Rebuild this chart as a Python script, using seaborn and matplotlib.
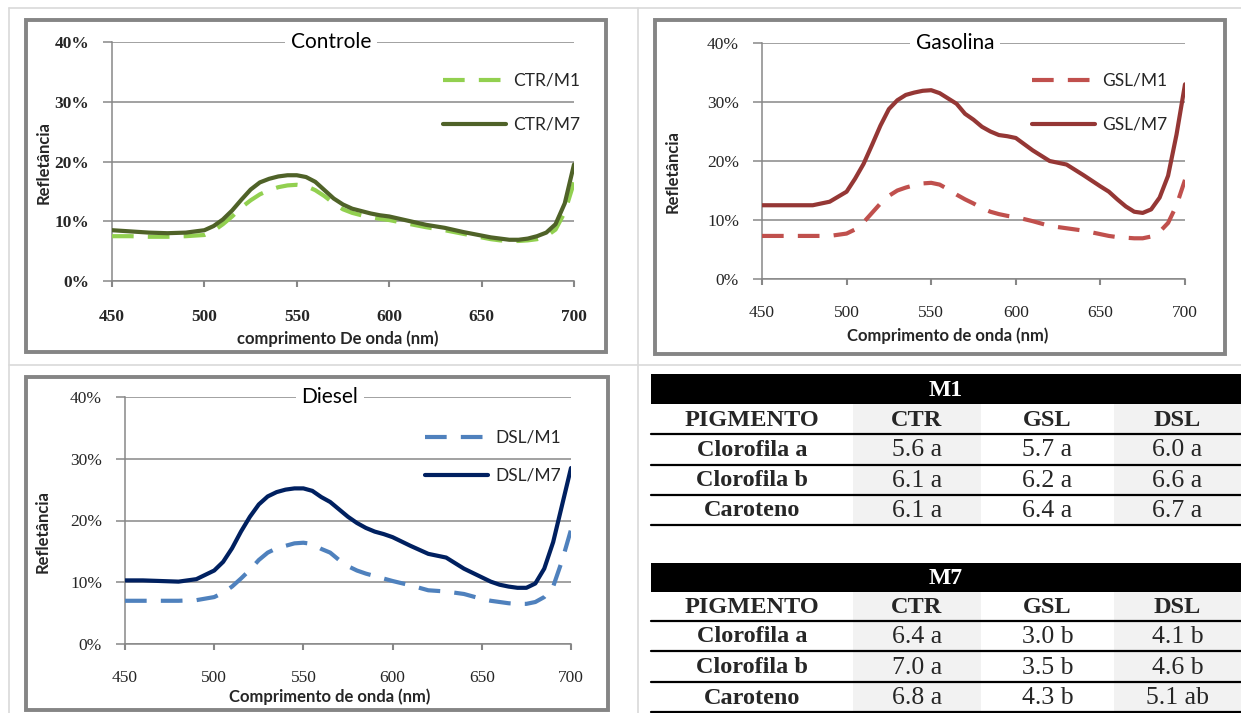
import matplotlib
matplotlib.use("Agg")
import matplotlib.pyplot as plt
import seaborn as sns
import numpy as np
import pandas as pd
from matplotlib.lines import Line2D
from matplotlib.patches import Rectangle
from matplotlib.ticker import PercentFormatter

# ---------------- data ----------------
wavelength = [450, 460, 470, 480, 490, 500, 505, 510, 515, 520, 525, 530, 535, 540,
              545, 550, 555, 560, 565, 570, 575, 580, 585, 590, 595, 600, 610, 620,
              630, 640, 650, 655, 660, 665, 670, 675, 680, 685, 690, 695, 700]

ctr_m1 = [7.5, 7.5, 7.4, 7.4, 7.5, 7.7, 8.4, 9.5, 10.8, 12.3, 13.5, 14.5, 15.2, 15.7,
          16.0, 16.1, 15.9, 15.2, 14.2, 13.0, 12.0, 11.4, 11.0, 10.7, 10.4, 10.2, 9.6, 9.0,
          8.5, 7.9, 7.3, 7.0, 6.8, 6.7, 6.7, 6.8, 7.0, 7.5, 8.6, 11.5, 16.5]
ctr_m7 = [8.5, 8.3, 8.1, 8.0, 8.1, 8.5, 9.2, 10.3, 11.8, 13.6, 15.3, 16.5, 17.1, 17.5,
          17.7, 17.7, 17.4, 16.6, 15.2, 13.8, 12.8, 12.1, 11.7, 11.3, 11.0, 10.8, 10.1, 9.4,
          8.9, 8.2, 7.6, 7.3, 7.1, 6.9, 6.9, 7.1, 7.5, 8.1, 9.5, 13.0, 19.5]

gsl_m1 = [7.3, 7.3, 7.3, 7.3, 7.3, 7.7, 8.4, 9.6, 11.2, 12.8, 14.1, 15.0, 15.5, 15.9,
          16.2, 16.3, 16.0, 15.2, 14.3, 13.5, 12.8, 12.0, 11.4, 11.0, 10.7, 10.5, 9.8, 9.0,
          8.6, 8.2, 7.6, 7.3, 7.1, 7.0, 6.9, 6.9, 7.2, 8.0, 9.5, 12.5, 16.8]
gsl_m7 = [12.5, 12.5, 12.5, 12.5, 13.1, 14.8, 17.0, 19.5, 22.7, 26.0, 28.8, 30.3, 31.2, 31.6,
          31.9, 32.0, 31.5, 30.6, 29.7, 28.0, 27.0, 25.8, 25.0, 24.4, 24.2, 23.9, 21.8, 20.0,
          19.4, 17.6, 15.7, 14.8, 13.5, 12.3, 11.4, 11.2, 11.8, 13.8, 17.5, 24.5, 33.0]

dsl_m1 = [7.0, 7.0, 7.0, 7.0, 7.1, 7.6, 8.3, 9.3, 10.6, 12.0, 13.6, 14.8, 15.5, 15.9,
          16.3, 16.4, 16.2, 15.4, 14.8, 13.6, 12.6, 11.9, 11.4, 11.0, 10.6, 10.2, 9.5, 8.7,
          8.5, 8.1, 7.3, 7.0, 6.8, 6.6, 6.5, 6.5, 6.8, 7.6, 9.3, 13.5, 18.5]
dsl_m7 = [10.3, 10.3, 10.2, 10.1, 10.5, 11.9, 13.3, 15.5, 18.2, 20.6, 22.6, 23.9, 24.6, 25.0,
          25.2, 25.2, 24.8, 23.8, 23.0, 21.8, 20.6, 19.6, 18.8, 18.2, 17.8, 17.3, 15.9, 14.6,
          14.0, 12.2, 10.8, 10.1, 9.6, 9.3, 9.1, 9.1, 9.8, 12.2, 16.5, 22.5, 28.5]

x_ticks = [450, 500, 550, 600, 650, 700]
y_ticks = [0, 10, 20, 30, 40]

pigments = ["Clorofila a", "Clorofila b", "Caroteno"]
treatments = ["CTR", "GSL", "DSL"]
m1_values = [["5.6 a", "5.7 a", "6.0 a"],
             ["6.1 a", "6.2 a", "6.6 a"],
             ["6.1 a", "6.4 a", "6.7 a"]]
m7_values = [["6.4 a", "3.0 b", "4.1 b"],
             ["7.0 a", "3.5 b", "4.6 b"],
             ["6.8 a", "4.3 b", "5.1 ab"]]

# ---------------- figure ----------------
W, H = 1241, 713
sns.set_theme(style="white")
plt.rcParams["font.family"] = ["Lato", "DejaVu Sans"]
fig = plt.figure(figsize=(W / 100, H / 100), dpi=100)
fig.patch.set_facecolor("white")

# background layer in pixel coordinates
bg = fig.add_axes([0, 0, 1, 1])
bg.set_xlim(0, W)
bg.set_ylim(H, 0)
bg.axis("off")

cell_c = "#D9D9D9"
bg.plot([9, 9], [8, H], color=cell_c, lw=1.2)
bg.plot([638, 638], [8, H], color=cell_c, lw=1.2)
bg.plot([9, W], [8, 8], color=cell_c, lw=1.2)
bg.plot([9, W], [365, 365], color=cell_c, lw=1.2)

frame_c = "#858585"
for (l, t, r, b) in [(26, 20, 606, 352), (655, 20, 1225, 354), (26, 377, 608, 710)]:
    bg.add_patch(Rectangle((l, t), r - l, b - t, fill=False, ec=frame_c, lw=2.8))

grid_c = "#878787"
serif = ["Liberation Serif", "DejaVu Serif"]


def px_axes(l, t, r, b):
    return fig.add_axes([l / W, 1 - b / H, (r - l) / W, (b - t) / H])


def panel(box, title, title_px, data_m1, data_m7, labels, colors, xlabel,
          xlabel_px, ylabel_px, legend_px, spacing, tick_weight, xpad):
    l, t, r, b = box
    ax = px_axes(l, t, r, b)
    ax.set_facecolor("none")
    fw, fh = r - l, b - t

    sns.lineplot(x=wavelength, y=data_m1, ax=ax, color=colors[0], lw=3.0,
                 linestyle="--", zorder=3)
    ax.lines[-1].set_dashes([5.2, 3.4])
    sns.lineplot(x=wavelength, y=data_m7, ax=ax, color=colors[1], lw=3.0,
                 zorder=4)

    ax.set_xlim(450, 700)
    ax.set_ylim(0, 40)
    ax.set_xticks(x_ticks)
    ax.set_yticks(y_ticks)
    ax.yaxis.set_major_formatter(PercentFormatter(xmax=100, decimals=0))
    ax.yaxis.grid(True, color=grid_c, lw=1.1)
    ax.xaxis.grid(False)
    ax.set_axisbelow(True)
    for s in ["top", "right"]:
        ax.spines[s].set_visible(False)
    for s in ["left", "bottom"]:
        ax.spines[s].set_color(grid_c)
        ax.spines[s].set_linewidth(1.1)
    ax.tick_params(axis="y", left=True, length=6.5, width=1.1, color=grid_c,
                   pad=10, labelsize=12.5)
    ax.tick_params(axis="x", bottom=True, length=4.5, width=1.5, color=grid_c,
                   pad=xpad, labelsize=12.5)
    for lab in ax.get_xticklabels() + ax.get_yticklabels():
        lab.set_family(serif)
        lab.set_weight(tick_weight)

    # title sitting on the top grid line
    ax.text((title_px - l) / fw, 1.0, title, transform=ax.transAxes,
            ha="center", va="center", fontsize=15, color="black", zorder=6,
            bbox=dict(fc="white", ec="none", pad=4))

    ax.set_xlabel(xlabel, fontsize=12, fontweight="bold")
    ax.xaxis.set_label_coords((xlabel_px[0] - l) / fw, (b - xlabel_px[1]) / fh)
    ax.xaxis.label.set_va("center")
    ax.set_ylabel("Refletância", fontsize=12, fontweight="bold")
    ax.yaxis.set_label_coords((ylabel_px[0] - l) / fw, (b - ylabel_px[1]) / fh)
    ax.yaxis.label.set_va("center")

    handles = [Line2D([], [], color=colors[0], lw=3.0, dashes=[5.2, 3.4]),
               Line2D([], [], color=colors[1], lw=3.0)]
    ax.legend(handles, labels, loc="upper left",
              bbox_to_anchor=((legend_px[0] - l) / fw, (b - legend_px[1]) / fh),
              frameon=False, borderpad=0, borderaxespad=0, fontsize=12.5,
              handlelength=3.6, handletextpad=0.45, labelspacing=spacing)
    return ax


panel((112, 42, 574, 281), "Controle", 331, ctr_m1, ctr_m7,
      ["CTR/M1", "CTR/M7"], ["#92D050", "#4F6228"],
      "comprimento De onda (nm)", (338, 339), (44, 163), (443, 73), 1.6,
      "bold", 16)
panel((762, 43, 1185, 279), "Gasolina", 955, gsl_m1, gsl_m7,
      ["GSL/M1", "GSL/M7"], ["#C0504D", "#953735"],
      "Comprimento de onda (nm)", (948, 336), (673, 172), (1032, 73), 1.6,
      "normal", 14)
panel((125, 397, 571, 644), "Diesel", 330, dsl_m1, dsl_m7,
      ["DSL/M1", "DSL/M7"], ["#4F81BD", "#002060"],
      "Comprimento de onda (nm)", (330, 697), (43, 532), (425, 430), 1.25,
      "normal", 14)

# ---------------- tables ----------------
col_edges = [651, 853, 981, 1114, 1241]
shade = "#F2F2F2"


def draw_table(title, values, bar_top, row_edges):
    bar_bot = row_edges[0]
    bg.add_patch(Rectangle((col_edges[0], bar_top), col_edges[-1] - col_edges[0],
                           bar_bot - bar_top, fc="black", ec="none"))
    bg.text((col_edges[0] + col_edges[-1]) / 2, (bar_top + bar_bot) / 2 + 1, title,
            color="white", ha="center", va="center", fontsize=17, fontweight="bold",
            family=serif)
    for ci in (1, 3):
        bg.add_patch(Rectangle((col_edges[ci], row_edges[0]),
                               col_edges[ci + 1] - col_edges[ci],
                               row_edges[-1] - row_edges[0], fc=shade, ec="none"))
    for y in row_edges[1:]:
        bg.plot([col_edges[0], col_edges[-1]], [y, y], color="black", lw=1.6)
    centers = [(col_edges[i] + col_edges[i + 1]) / 2 for i in range(4)]
    header = ["PIGMENTO"] + treatments
    ymid = (row_edges[0] + row_edges[1]) / 2 + 1
    for cx, txt in zip(centers, header):
        bg.text(cx, ymid, txt, ha="center", va="center", fontsize=17.5,
                fontweight="bold", family=serif)
    for ri, name in enumerate(pigments):
        ymid = (row_edges[ri + 1] + row_edges[ri + 2]) / 2 + 1
        bg.text(centers[0], ymid, name, ha="center", va="center", fontsize=17.5,
                fontweight="bold", family=serif)
        for cj in range(3):
            bg.text(centers[cj + 1], ymid, values[ri][cj], ha="center",
                    va="center", fontsize=18.5, family=serif)


draw_table("M1", m1_values, 374, [404, 434, 465, 495, 525])
draw_table("M7", m7_values, 563, [592, 621, 651, 682, 712])

fig.savefig("out.png", dpi=100, facecolor="white")
